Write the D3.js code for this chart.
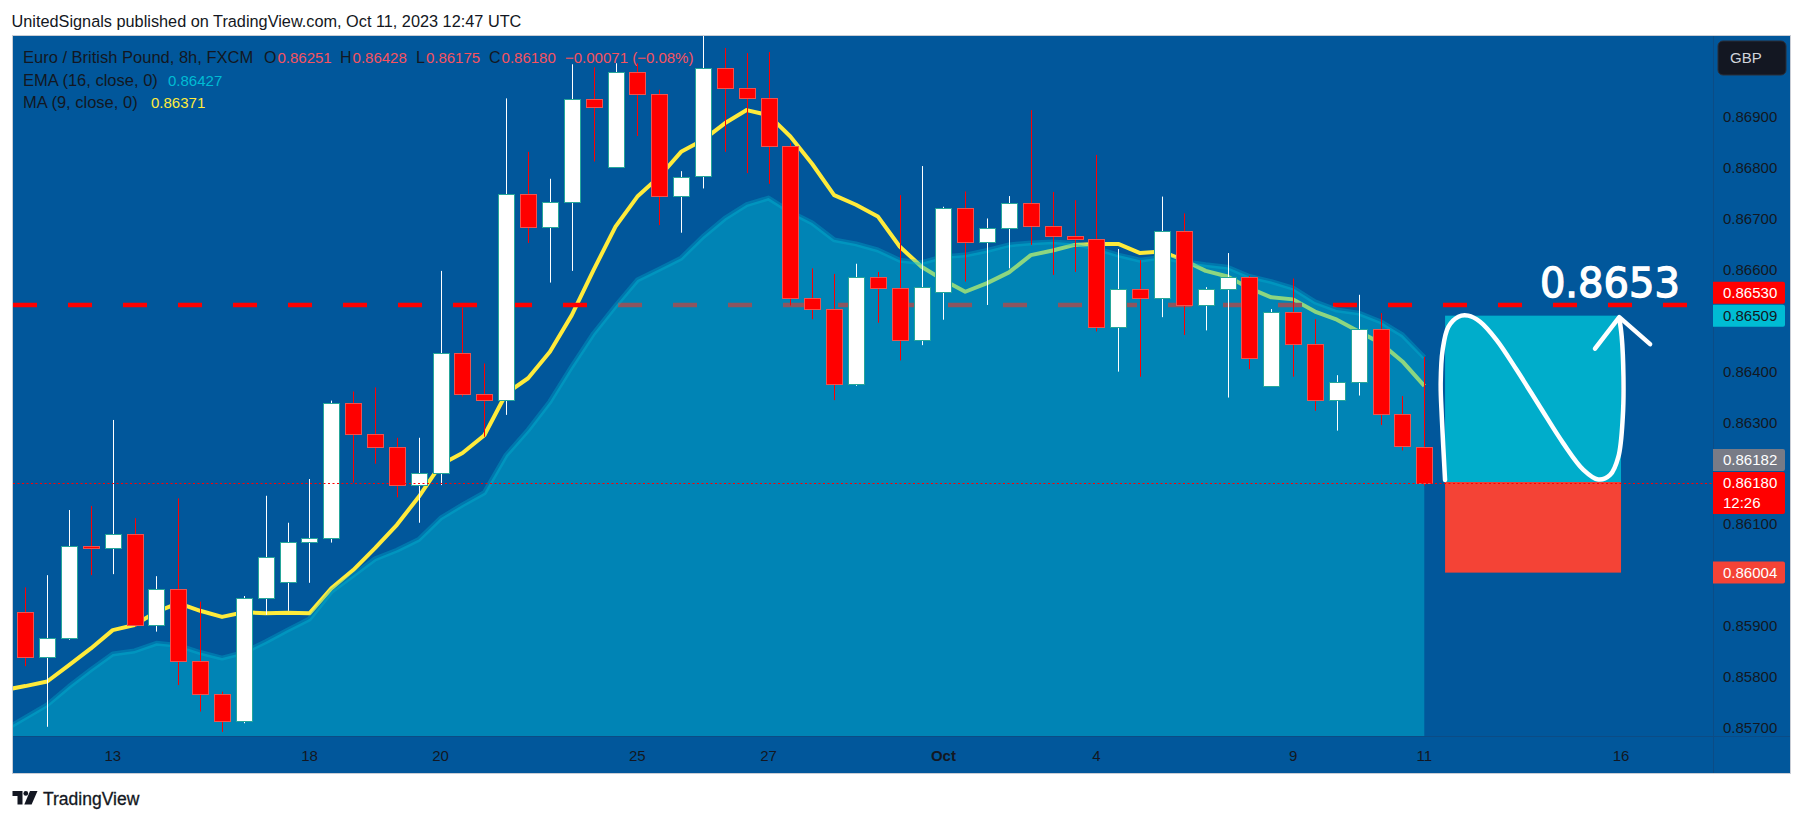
<!DOCTYPE html>
<html><head><meta charset="utf-8">
<script src="https://cdn.jsdelivr.net/npm/d3@7"></script>
<style>
body{margin:0;background:#fff;}
svg{display:block;font-family:"Liberation Sans",Arial,sans-serif;}
</style>
</head><body>
<svg id="chart" width="1804" height="821"></svg>
<script>
// ---------------- DATA ----------------
const opens = [0.85927,0.85838,0.85875,0.86057,0.86052,0.86079,0.85902,0.85971,0.85830,0.85765,
 0.85712,0.85955,0.85985,0.86064,0.86073,0.86337,0.86276,0.86251,0.86176,0.86199,
 0.86435,0.86356,0.86343,0.86748,0.86683,0.86732,0.86934,0.86801,0.86987,0.86944,
 0.86744,0.86784,0.86995,0.86956,0.86936,0.86842,0.86543,0.86522,0.86374,0.86584,
 0.86563,0.86461,0.86556,0.86720,0.86653,0.86681,0.86730,0.86685,0.86665,0.86659,
 0.86486,0.86562,0.86543,0.86676,0.86529,0.86561,0.86584,0.86371,0.86517,0.86453,
 0.86343,0.86378,0.86482,0.86315,0.86251];
const highs = [0.85975,0.85999,0.86127,0.86135,0.86304,0.86111,0.85997,0.86150,0.85947,0.85770,
 0.85958,0.86155,0.86102,0.86188,0.86342,0.86360,0.86368,0.86269,0.86269,0.86597,
 0.86525,0.86415,0.86936,0.86831,0.86778,0.87003,0.86997,0.87005,0.87005,0.86953,
 0.86793,0.87059,0.87035,0.87025,0.87027,0.86848,0.86602,0.86591,0.86611,0.86595,
 0.86746,0.86803,0.86723,0.86753,0.86700,0.86744,0.86913,0.86752,0.86736,0.86825,
 0.86640,0.86618,0.86743,0.86710,0.86565,0.86632,0.86587,0.86522,0.86582,0.86502,
 0.86392,0.86550,0.86514,0.86351,0.86428];
const lows = [0.85820,0.85701,0.85872,0.85999,0.86001,0.85898,0.85888,0.85783,0.85731,0.85691,
 0.85708,0.85921,0.85929,0.85984,0.86063,0.86181,0.86218,0.86152,0.86102,0.86176,
 0.86350,0.86271,0.86314,0.86652,0.86574,0.86597,0.86812,0.86801,0.86862,0.86687,
 0.86672,0.86759,0.86831,0.86789,0.86768,0.86529,0.86502,0.86343,0.86371,0.86495,
 0.86421,0.86451,0.86501,0.86576,0.86530,0.86602,0.86648,0.86589,0.86595,0.86478,
 0.86399,0.86389,0.86506,0.86471,0.86480,0.86348,0.86404,0.86369,0.86389,0.86322,
 0.86283,0.86352,0.86294,0.86244,0.86175];
const closes = [0.85838,0.85875,0.86057,0.86052,0.86079,0.85902,0.85971,0.85830,0.85765,0.85712,
 0.85955,0.86034,0.86064,0.86073,0.86337,0.86276,0.86251,0.86176,0.86199,0.86435,
 0.86356,0.86343,0.86748,0.86683,0.86732,0.86934,0.86919,0.86987,0.86944,0.86744,
 0.86782,0.86995,0.86956,0.86936,0.86842,0.86544,0.86522,0.86374,0.86584,0.86563,
 0.86461,0.86566,0.86720,0.86653,0.86681,0.86730,0.86685,0.86665,0.86659,0.86486,
 0.86562,0.86543,0.86676,0.86529,0.86561,0.86584,0.86425,0.86517,0.86453,0.86343,
 0.86378,0.86482,0.86315,0.86253,0.86180];

// indicator series start one bar before the first visible candle
const lineStartIndex = -1;
const ma9 = [0.85773,
 0.85781,0.85790,0.85822,0.85855,0.85891,0.85901,0.85927,0.85944,0.85929,0.85917,
 0.85926,0.85924,0.85925,0.85924,0.85973,0.86009,0.86052,0.86098,0.86153,0.86216,
 0.86239,0.86274,0.86356,0.86386,0.86438,0.86510,0.86599,0.86684,0.86743,0.86782,
 0.86831,0.86854,0.86887,0.86913,0.86903,0.86861,0.86807,0.86746,0.86727,0.86704,
 0.86645,0.86605,0.86579,0.86556,0.86573,0.86594,0.86628,0.86637,0.86648,0.86650,
 0.86650,0.86632,0.86635,0.86618,0.86597,0.86586,0.86563,0.86545,0.86541,0.86517,
 0.86501,0.86478,0.86455,0.86419,0.86371];
const ema16 = [0.85694,
 0.85719,0.85744,0.85780,0.85813,0.85844,0.85850,0.85865,0.85861,0.85847,0.85836,
 0.85847,0.85868,0.85891,0.85913,0.85967,0.85999,0.86031,0.86048,0.86069,0.86111,
 0.86137,0.86161,0.86235,0.86284,0.86340,0.86409,0.86474,0.86528,0.86579,0.86600,
 0.86622,0.86664,0.86700,0.86727,0.86740,0.86713,0.86691,0.86658,0.86650,0.86638,
 0.86618,0.86613,0.86625,0.86628,0.86637,0.86648,0.86652,0.86654,0.86651,0.86641,
 0.86628,0.86618,0.86624,0.86615,0.86609,0.86604,0.86586,0.86576,0.86563,0.86536,
 0.86520,0.86514,0.86497,0.86471,0.86427];

const timeTickIndex = [4, 13, 19, 28, 34, 42, 49, 58, 64, 73];
const timeTickLabels = ["13","18","20","25","27","Oct","4","9","11","16"];

const horizLinePrice = 0.86530;
const lastPrice = 0.86180;
const entryPrice = 0.86182, targetPrice = 0.86509, stopPrice = 0.86004;
const positionStartIndex = 64.95, positionEndIndex = 73.0;
const noteText = "0.8653";
const notePoint = [69.29, 0.86546];
const sketchPath = [[64.95,0.86186],[64.80,0.86310],[64.75,0.86377],[64.84,0.86442],[65.10,0.86487],
 [65.56,0.86507],[66.01,0.86509],[66.55,0.86497],[67.31,0.86461],[68.23,0.86402],[69.29,0.86330],
 [70.36,0.86258],[71.28,0.86206],[71.96,0.86187],[72.50,0.86196],[72.88,0.86232],[73.08,0.86310],
 [73.11,0.86389],[73.03,0.86468],[72.92,0.86504]];
const sketchArrow = [[71.81,0.86444],[72.92,0.86506],[74.33,0.86453]];

const axisLabelDefs = [
  {price:0.86530, lines:["0.86530"], fill:"#ff0000", color:"#ffffff"},
  {price:0.86509, lines:["0.86509"], fill:"#00bcd4", color:"#131722"},
  {price:0.86182, lines:["0.86182"], fill:"#787b86", color:"#ffffff"},
  {price:0.86180, lines:["0.86180","12:26"], fill:"#ff0000", color:"#ffffff"},
  {price:0.86004, lines:["0.86004"], fill:"#f44336", color:"#ffffff"}
];

const titleText = "UnitedSignals published on TradingView.com, Oct 11, 2023 12:47 UTC";
const symbolText = "Euro / British Pound, 8h, FXCM";
const ohlcLabels = ["O","H","L","C"];
const ohlcValues = ["0.86251","0.86428","0.86175","0.86180"];
const changeText = "\u22120.00071 (\u22120.08%)";
const emaLegend = ["EMA (16, close, 0)", "0.86427"];
const maLegend = ["MA (9, close, 0)", "0.86371"];

// ---------------- LAYOUT ----------------
const svg = d3.select("#chart");
const panel = {l:13, t:36, r:1790, b:773};
const plot = {l:13, t:36, r:1713, b:736};
const BG = "#01579b", DARK = "#131722", RED_TXT = "#f7525f";

const x = d3.scaleLinear().domain([0, 64]).range([25.3, 1424.3]);
const y = d3.scaleLinear().domain([0.857, 0.869]).range([727.3, 116.7]);

svg.append("rect").attr("x",panel.l-0.5).attr("y",panel.t-0.5)
  .attr("width",panel.r-panel.l+1).attr("height",panel.b-panel.t+1)
  .attr("fill",BG).attr("stroke","#c9cdd5").attr("stroke-width",1);

const defs = svg.append("defs");
defs.append("clipPath").attr("id","pc").append("rect")
  .attr("x",plot.l).attr("y",plot.t).attr("width",plot.r-plot.l).attr("height",plot.b-plot.t);

const g = svg.append("g").attr("clip-path","url(#pc)");

const maData = ma9.map((v,k)=>({i:lineStartIndex+k, v}));
const emaData = ema16.map((v,k)=>({i:lineStartIndex+k, v}));

// MA line (drawn beneath the EMA fill)
g.append("path").datum(maData)
  .attr("d", d3.line().x(d=>x(d.i)).y(d=>y(d.v)))
  .attr("fill","none").attr("stroke","#ffeb3b").attr("stroke-width",4)
  .attr("stroke-linejoin","round");

// horizontal dashed line
g.append("line").attr("x1",plot.l).attr("x2",x(76.6))
  .attr("y1",y(horizLinePrice)).attr("y2",y(horizLinePrice))
  .attr("stroke","#ff0000").attr("stroke-width",4.5).attr("stroke-dasharray","24,31");

// EMA area
g.append("path").datum(emaData)
  .attr("d", d3.area().x(d=>x(d.i)).y0(plot.b).y1(d=>y(d.v)))
  .attr("fill","rgba(0,188,212,0.45)");
g.append("path").datum(emaData)
  .attr("d", d3.line().x(d=>x(d.i)).y(d=>y(d.v)))
  .attr("fill","none").attr("stroke","rgba(0,188,212,0.32)").attr("stroke-width",5)
  .attr("stroke-linejoin","round");

// position tool boxes
g.append("rect").attr("x",x(positionStartIndex)).attr("y",y(targetPrice))
  .attr("width",x(positionEndIndex)-x(positionStartIndex)).attr("height",y(entryPrice)-y(targetPrice))
  .attr("fill","#00adcb");
g.append("rect").attr("x",x(positionStartIndex)).attr("y",y(entryPrice))
  .attr("width",x(positionEndIndex)-x(positionStartIndex)).attr("height",y(stopPrice)-y(entryPrice))
  .attr("fill","#f44336");

// candles
const candles = opens.map((o,i)=>({i, o, h:highs[i], l:lows[i], c:closes[i], up: closes[i]>=o}));
const cg = g.append("g");
cg.selectAll("line.wick").data(candles).join("line").attr("class","wick")
  .attr("x1",d=>Math.round(x(d.i))+0.5).attr("x2",d=>Math.round(x(d.i))+0.5)
  .attr("y1",d=>y(d.h)).attr("y2",d=>y(d.l))
  .attr("stroke",d=>d.up?"#ffffff":"#ff0000").attr("stroke-width",1);
cg.selectAll("rect.body").data(candles).join("rect").attr("class","body")
  .attr("x",d=>Math.round(x(d.i))-7.5)
  .attr("y",d=>Math.round(y(Math.max(d.o,d.c)))+0.5)
  .attr("width",16)
  .attr("height",d=>Math.max(1, Math.round(y(Math.min(d.o,d.c)))-Math.round(y(Math.max(d.o,d.c)))))
  .attr("fill",d=>d.up?"#ffffff":"#ff0000")
  .attr("stroke",d=>d.up?"#26a69a":"#ef5350").attr("stroke-width",1);

// last price dotted line
g.append("line").attr("x1",plot.l).attr("x2",plot.r)
  .attr("y1",Math.round(y(lastPrice))+0.5).attr("y2",Math.round(y(lastPrice))+0.5)
  .attr("stroke","#ff0000").attr("stroke-width",1.2).attr("stroke-dasharray","2,2.5");

// sketch annotation
g.append("path").datum(sketchPath)
  .attr("d", d3.line().x(d=>x(d[0])).y(d=>y(d[1])).curve(d3.curveCatmullRom))
  .attr("fill","none").attr("stroke","#ffffff").attr("stroke-width",4.5)
  .attr("stroke-linecap","round").attr("stroke-linejoin","round");
g.append("path").datum(sketchArrow)
  .attr("d", d3.line().x(d=>x(d[0])).y(d=>y(d[1])))
  .attr("fill","none").attr("stroke","#ffffff").attr("stroke-width",4.5)
  .attr("stroke-linecap","round").attr("stroke-linejoin","round");
g.append("text").attr("x",x(notePoint[0])).attr("y",y(notePoint[1]))
  .attr("font-family","DejaVu Sans").attr("font-size",40)
  .attr("fill","#ffffff").attr("stroke","#ffffff").attr("stroke-width",1.3)
  .text(noteText);

// axis separators
svg.append("line").attr("x1",plot.r+0.5).attr("x2",plot.r+0.5).attr("y1",panel.t).attr("y2",panel.b)
  .attr("stroke","#0b4c86").attr("stroke-width",1);
svg.append("line").attr("x1",panel.l).attr("x2",panel.r).attr("y1",plot.b+0.5).attr("y2",plot.b+0.5)
  .attr("stroke","#0b4c86").attr("stroke-width",1);

// price axis labels layout (push apart upward)
const labH = 22, lineH = 20;
const labs = axisLabelDefs.map(d=>({...d, yc:y(d.price)}))
  .sort((a,b)=>b.yc-a.yc);
let prevTop = Infinity;
labs.forEach(d=>{
  d.h = labH + (d.lines.length-1)*lineH;
  d.top = d.yc - labH/2;
  if (d.top + d.h > prevTop - 1) d.top = prevTop - 1 - d.h;
  prevTop = d.top;
});

// price ticks (hidden where a label box sits)
const ticks = d3.range(0, 13).map(k => +(0.857 + k*0.001).toFixed(3));
const visibleTicks = ticks.filter(t=>{
  const yc = y(t);
  return !labs.some(l => yc+8 > l.top && yc-8 < l.top + l.h);
});
const fmt = d3.format(".5f");
svg.append("g").selectAll("text").data(visibleTicks).join("text")
  .attr("x",1723).attr("y",d=>y(d)+5.5)
  .attr("font-size",15).attr("fill",DARK).text(d=>fmt(d));

const lg = svg.append("g");
labs.forEach(d=>{
  lg.append("path")
    .attr("d", `M${plot.r},${d.top} H${1783} a2,2 0 0 1 2,2 V${d.top+d.h-2} a2,2 0 0 1 -2,2 H${plot.r} Z`)
    .attr("fill", d.fill);
  d.lines.forEach((t,k)=>{
    lg.append("text").attr("x",1723).attr("y",d.top + 16 + k*lineH)
      .attr("font-size",15).attr("fill",d.color).text(t);
  });
});

// currency button
svg.append("rect").attr("x",1718).attr("y",41).attr("width",68).attr("height",34).attr("rx",5)
  .attr("fill","#131722").attr("stroke","#2a2e39");
svg.append("text").attr("x",1730).attr("y",63).attr("font-size",15).attr("fill","#d1d4dc").text("GBP");

// time axis labels
svg.append("g").selectAll("text").data(timeTickIndex).join("text")
  .attr("x",d=>x(d)).attr("y",761).attr("text-anchor","middle")
  .attr("font-size",15).attr("fill",DARK)
  .attr("font-weight",(d,k)=>timeTickLabels[k]==="Oct"?"bold":"normal")
  .text((d,k)=>timeTickLabels[k]);

// legend: fixed column positions, each piece its own text element
function txt(s, px, py, fill, fs){
  return svg.append("text").attr("x",px).attr("y",py).attr("font-size",fs).attr("fill",fill).text(s);
}
txt(symbolText, 23, 62.5, DARK, 16.5);
const ohlcLabelX = [264, 340, 416, 489];
ohlcLabels.forEach((l,k)=>{
  const t = txt(l, ohlcLabelX[k], 62.5, DARK, 16);
  const w = t.node().getComputedTextLength();
  txt(ohlcValues[k], ohlcLabelX[k] + w + 1, 62.5, RED_TXT, 15);
});
txt(changeText, 565, 62.5, RED_TXT, 15);
txt(emaLegend[0], 23, 85.5, DARK, 16.5);
txt(emaLegend[1], 168, 85.5, "#00bcd4", 15);
txt(maLegend[0], 23, 108, DARK, 16.5);
txt(maLegend[1], 151, 108, "#ffeb3b", 15);

// title
txt(titleText, 11.5, 26.5, DARK, 16.3);

// TradingView logo
const logo = svg.append("g").attr("fill",DARK);
logo.append("path").attr("d","M12.5,791 H22.5 V804.5 H17.5 V796 H12.5 Z");
logo.append("circle").attr("cx",25.8).attr("cy",793.4).attr("r",2.4);
logo.append("path").attr("d","M30,791 H37.5 L31.6,804.5 H24.3 Z");
svg.append("text").attr("x",43).attr("y",804.5).attr("font-size",17.5).attr("fill",DARK)
  .attr("stroke",DARK).attr("stroke-width",0.3).text("TradingView");
</script>
</body></html>
